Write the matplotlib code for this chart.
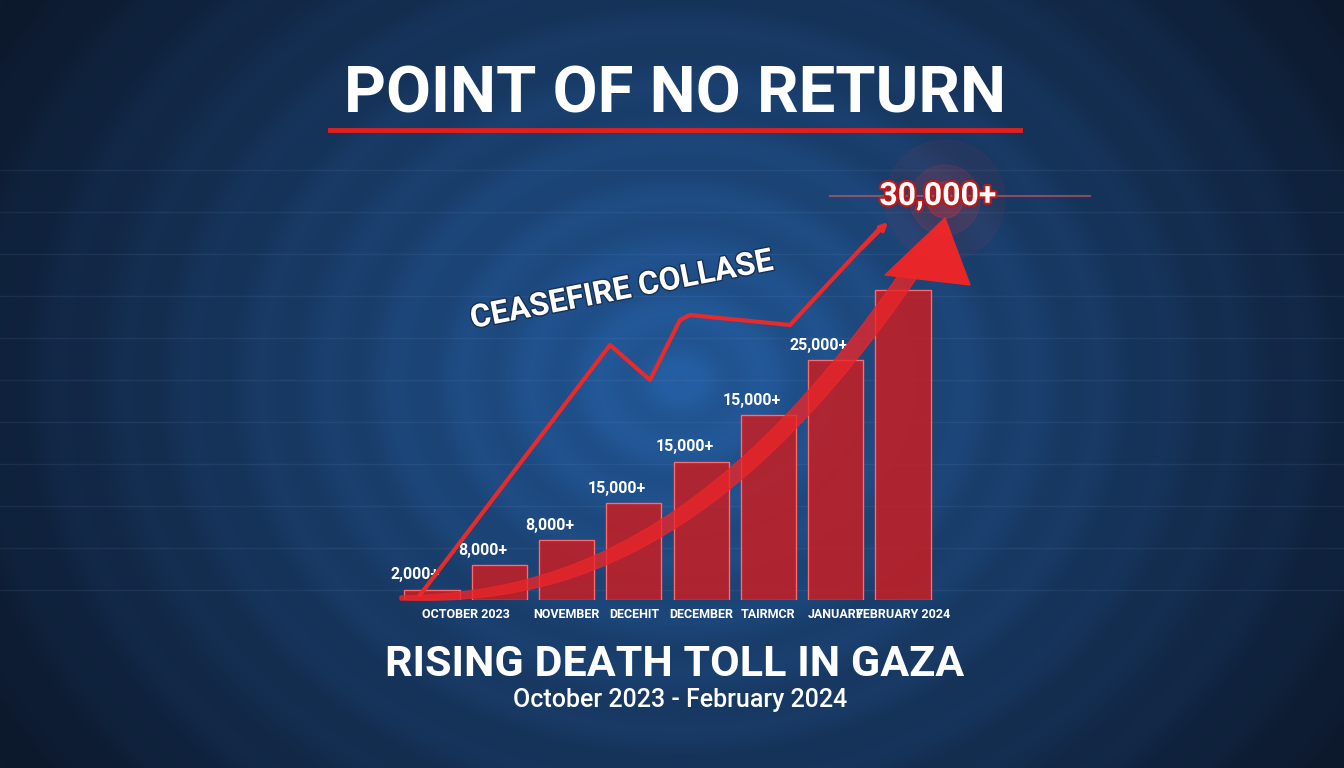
import numpy as np
import matplotlib
matplotlib.use("Agg")
import matplotlib.pyplot as plt
from matplotlib.patches import Polygon
import matplotlib.patheffects as pe

# data
months = ["OCTOBER 2023", "NOVEMBER", "DECEHIT", "DECEMBER", "TAIRMCR", "JANUARY", "FEBRUARY 2024"]
month_pos = [0.5, 2, 3, 4, 5, 6, 7]
heights = [1000, 3400, 5800, 9400, 13400, 17900, 23200, 30000]
labels = ["2,000+", "8,000+", "8,000+", "15,000+", "15,000+", "15,000+", "25,000+", "30,000+"]

W, H = 1344, 768
fig = plt.figure(figsize=(13.44, 7.68), dpi=100)
bg = fig.add_axes([0, 0, 1, 1])
bg.set_xlim(0, W); bg.set_ylim(H, 0); bg.axis("off")
yy, xx = np.mgrid[0:H, 0:W]
r = np.sqrt(((xx - 680) / 1.2) ** 2 + (yy - 380) ** 2)
t = np.clip(r / 650, 0, 1)
c0 = np.array([0.14, 0.36, 0.62]); c1 = np.array([0.05, 0.10, 0.18])
img = c0[None, None, :] * (1 - t[..., None]) + c1[None, None, :] * t[..., None]
img *= (1 + 0.04 * np.sin(r / 9))[..., None]
bg.imshow(np.clip(img, 0, 1), extent=[0, W, H, 0], zorder=0)
for y in range(170, 600, 42):
    bg.plot([0, W], [y, y], color="#7fa6d6", alpha=0.10, lw=1, zorder=1)

# bars axes
ax = fig.add_axes([395 / W, (H - 600) / H, 545 / W, 350 / H])
ax.patch.set_alpha(0)
x = np.arange(len(heights))
ax.bar(x, heights, width=0.82, color="#c81e23", edgecolor="#ff4a4a", lw=1, alpha=0.85, zorder=2)
ax.bar(x, heights, width=0.82, color="none", edgecolor="#ff6b6b", lw=0.8, zorder=3)
for xi, h, l in zip(x[:-1], heights[:-1], labels[:-1]):
    ax.text(xi - 0.25, h + 700, l, color="white", ha="center", va="bottom",
            fontsize=11.5, fontfamily="Roboto", fontweight="bold")
ax.set_ylim(0, 33900); ax.set_xlim(-0.55, len(x) - 0.45)
ax.set_xticks(month_pos); ax.set_xticklabels(months, color="white", fontsize=9, fontfamily="Roboto", fontweight="bold")
ax.tick_params(length=0, pad=6)
for s in ax.spines.values(): s.set_visible(False)
ax.set_yticks([])

# big curved arrow (overlay)
ov = fig.add_axes([0, 0, 1, 1]); ov.patch.set_alpha(0)
ov.set_xlim(0, W); ov.set_ylim(H, 0); ov.axis("off")
s = np.linspace(0, 1, 60)
cx = 400 + 520 * s
cy = 598 - 340 * s ** 2.3
wid = 4 + 26 * s
top = np.c_[cx, cy - wid / 2]; bot = np.c_[cx, cy + wid / 2]
ov.add_patch(Polygon(np.r_[top, bot[::-1]], closed=True, color="#e8262a", alpha=0.8, zorder=4))
ov.add_patch(Polygon([[885, 275], [945, 218], [970, 285]], closed=True, color="#e8262a", zorder=4))
zx = [420, 610, 650, 660, 680, 690, 790, 880]
zy = [595, 345, 380, 360, 320, 315, 325, 228]
ov.plot(zx, zy, color="#e82a2a", lw=3, zorder=5)
ov.annotate("", xy=(890, 220), xytext=(860, 250), arrowprops=dict(arrowstyle="-|>", color="#e82a2a", lw=3), zorder=5)

for rr, a in [(60, 0.06), (35, 0.12), (18, 0.25)]:
    ov.add_patch(plt.Circle((945, 200), rr, color="#ff3030", alpha=a, zorder=5))
ov.plot([830, 1090], [196, 196], color="#ff6060", lw=1.5, alpha=0.5, zorder=5)
ov.text(938, 196, labels[-1], color="white", ha="center", va="center", fontsize=23,
        fontfamily="Roboto", fontweight="bold", zorder=6,
        path_effects=[pe.withStroke(linewidth=3, foreground="#c01818")])

ov.text(622, 290, "CEASEFIRE COLLASE", rotation=11, color="white", ha="center", va="center",
        fontsize=23, fontfamily="Roboto", fontweight="bold", zorder=6,
        path_effects=[pe.withStroke(linewidth=2, foreground="#1a3050")])

ov.text(675, 95, "POINT OF NO RETURN", color="white", ha="center", va="center", fontsize=47,
        fontfamily="Roboto", fontweight="bold", zorder=6)
ov.plot([330, 1020], [130, 130], color="#e02020", lw=3.5, zorder=6)
ov.text(675, 665, "RISING DEATH TOLL IN GAZA", color="white", ha="center", va="center", fontsize=31,
        fontfamily="Roboto", fontweight="bold", zorder=6)
ov.text(680, 700, "October 2023 - February 2024", color="white", ha="center", va="center", fontsize=18,
        fontfamily="Roboto", fontweight="medium", zorder=6)

fig.savefig("out.png", dpi=100)
